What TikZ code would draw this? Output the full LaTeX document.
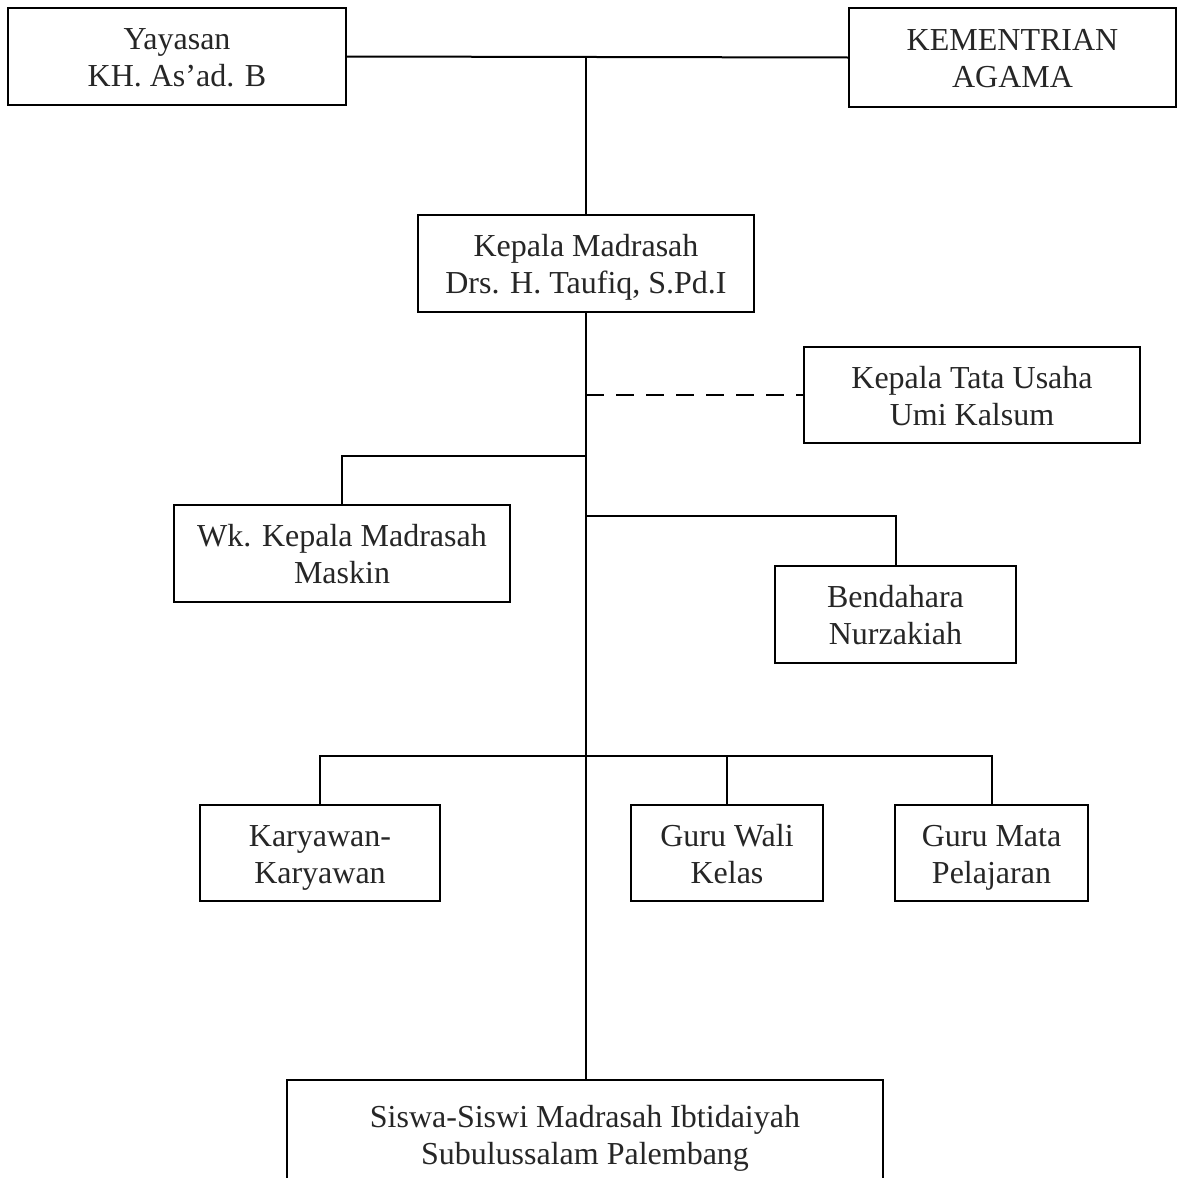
\documentclass[tikz,border=0pt]{standalone}
\usepackage{fontspec}
\setmainfont{Liberation Serif}
\newcommand{\ls}{\rule[-7pt]{0pt}{37pt}}
\begin{document}
\begin{tikzpicture}[x=1pt,y=-1pt,
  box/.style={draw=black,line width=2pt,align=center,inner sep=0pt,
    font=\fontsize{32}{37}\selectfont,text=black!85},
  link/.style={line width=2pt,draw=black}]
\path[use as bounding box] (0,0) rectangle (1178,1178);
\clip (0,0) rectangle (1178,1178);
\fill[white] (0,0) rectangle (1178,1178);
\node[box,minimum width=338pt,minimum height=97pt] (yay) at (177,56.5) {\ls Yayasan\\KH. As’ad. B\ls};
\node[box,minimum width=327pt,minimum height=99pt] (kem) at (1012.5,57.5) {\ls KEMENTRIAN\\AGAMA\ls};
\node[box,minimum width=336pt,minimum height=97pt] (kep) at (586,263.5) {\ls Kepala Madrasah\\Drs. H. Taufiq, S.Pd.I\ls};
\node[box,minimum width=336pt,minimum height=96pt] (ktu) at (972,395) {\ls Kepala Tata Usaha\\Umi Kalsum\ls};
\node[box,minimum width=336pt,minimum height=97pt] (wk) at (342,553.5) {\ls Wk. Kepala Madrasah\\Maskin\ls};
\node[box,minimum width=241pt,minimum height=97pt] (ben) at (895.5,614.5) {\ls Bendahara\\Nurzakiah\ls};
\node[box,minimum width=240pt,minimum height=96pt] (kar) at (320,853) {\ls Karyawan-\\Karyawan\ls};
\node[box,minimum width=192pt,minimum height=96pt] (gwk) at (727,853) {\ls Guru Wali\\Kelas\ls};
\node[box,minimum width=193pt,minimum height=96pt] (gmp) at (991.5,853) {\ls Guru Mata\\Pelajaran\ls};
\node[box,minimum width=596pt,minimum height=108pt] (sis) at (585,1134) {\ls Siswa-Siswi Madrasah Ibtidaiyah\\Subulussalam Palembang\ls};
\coordinate (top) at (586,57);
\coordinate (jwk) at (586,456);
\coordinate (jben) at (586,516);
\coordinate (jbar) at (586,756);
\draw[link] (yay.east) -- (kem.west);
\draw[link] (top) -- (kep.north);
\draw[link] (kep.south) -- (kep.south |- sis.north);
\draw[link,dash pattern=on 18pt off 12pt] (kep.south |- ktu.west) -- (ktu.west);
\draw[link] (jwk) -| (wk.north);
\draw[link] (jben) -| (ben.north);
\draw[link] (kar.north) |- (jbar) -| (gmp.north);
\draw[link] (gwk.north) -- (gwk.north |- jbar);
\end{tikzpicture}
\end{document}
